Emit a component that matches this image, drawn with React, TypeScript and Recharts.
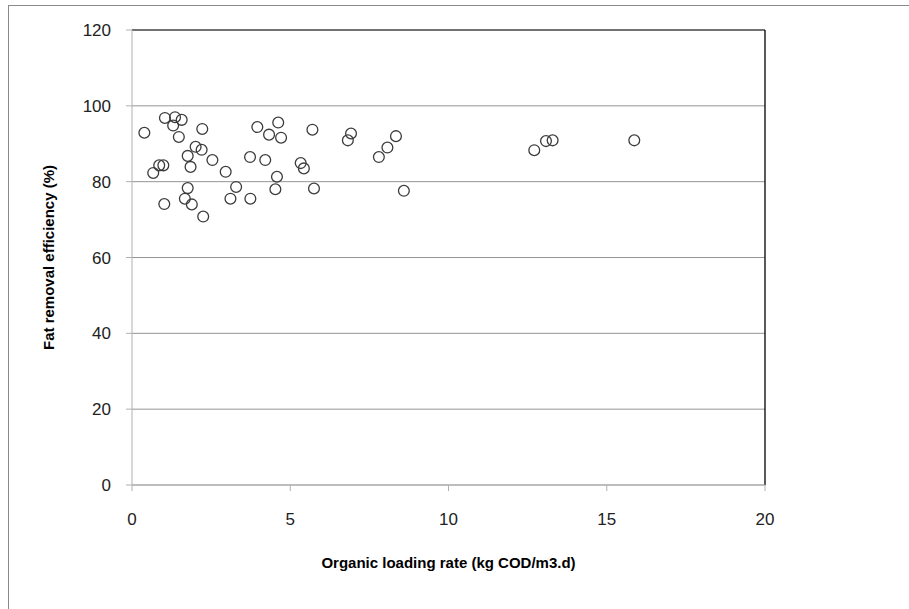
import { ScatterChart, Scatter, XAxis, YAxis, CartesianGrid, ReferenceLine, Label } from 'recharts';

// Organic loading rate (kg COD/m3.d)
const loadingRate = [
  0.39, 1.04, 1.36, 1.57, 1.30, 1.48, 2.22, 2.01, 2.20, 1.76,
  1.85, 2.54, 0.86, 0.99, 0.67, 2.96, 1.76, 3.29, 1.67, 1.89,
  1.02, 3.11, 3.74, 2.25, 3.73, 4.21, 3.96, 4.33, 4.62, 4.71,
  4.58, 4.53, 5.70, 6.92, 6.82, 8.34, 8.07, 7.80, 5.33, 5.43,
  5.75, 8.59, 12.71, 13.08, 13.29, 15.87,
];

// Fat removal efficiency (%)
const removalEfficiency = [
  92.9, 96.8, 97.0, 96.3, 94.8, 91.8, 93.9, 89.2, 88.4, 86.8,
  83.9, 85.7, 84.3, 84.3, 82.3, 82.6, 78.3, 78.6, 75.5, 74.0,
  74.1, 75.5, 75.5, 70.8, 86.5, 85.7, 94.4, 92.4, 95.6, 91.6,
  81.3, 78.0, 93.7, 92.7, 90.9, 92.0, 89.0, 86.5, 84.9, 83.5,
  78.2, 77.6, 88.3, 90.7, 90.9, 90.9,
];

const xTicks = [0, 5, 10, 15, 20];
const yTicks = [0, 20, 40, 60, 80, 100, 120];

const data = loadingRate.map((x, i) => ({ x, y: removalEfficiency[i] }));

const FONT = '"Liberation Sans", Arial, sans-serif';

const HollowDot = (props: any) => {
  const { cx, cy } = props;
  if (cx == null || cy == null) return null;
  return <circle cx={cx} cy={cy} r={5.4} fill="none" stroke="#3c3c3c" strokeWidth={1.3} />;
};

export default function App() {
  return (
    <div style={{ position: 'absolute', left: 0, top: 0, width: 909, height: 609, overflow: 'hidden', background: '#fff' }}>
      <div
        style={{
          position: 'absolute',
          left: 8,
          top: 5,
          width: 940,
          height: 640,
          borderLeft: '1px solid #8a8a8a',
          borderTop: '1px solid #8a8a8a',
        }}
      />
      <div style={{ position: 'absolute', left: 0, top: 0 }}>
        <ScatterChart width={909} height={609} margin={{ top: 30, right: 144, bottom: 0, left: 0 }}>
          <CartesianGrid vertical={false} stroke="#959595" />
          <XAxis
            type="number"
            dataKey="x"
            domain={[0, 20]}
            ticks={xTicks}
            height={124}
            stroke="#b0b0b0"
            tickSize={6}
            tickMargin={22}
            tick={{ fill: '#222', fontSize: 17, fontFamily: FONT }}
          >
            <Label
              value="Organic loading rate (kg COD/m3.d)"
              position="insideTop"
              offset={72}
              style={{ fontFamily: FONT, fontSize: 15, fontWeight: 'bold', fill: '#000' }}
            />
          </XAxis>
          <YAxis
            type="number"
            dataKey="y"
            domain={[0, 120]}
            ticks={yTicks}
            width={132}
            stroke="#b0b0b0"
            tickSize={6}
            tickMargin={15}
            tick={{ fill: '#222', fontSize: 17, fontFamily: FONT }}
          >
            <Label
              value="Fat removal efficiency (%)"
              position="insideLeft"
              offset={49}
              angle={-90}
              textAnchor="middle"
              style={{ fontFamily: FONT, fontSize: 15, fontWeight: 'bold', fill: '#000', textAnchor: 'middle' }}
            />
          </YAxis>
          <ReferenceLine y={120} stroke="#555" strokeWidth={1.3} />
          <ReferenceLine x={20} stroke="#000" strokeWidth={1.3} />
          <Scatter data={data} shape={<HollowDot />} isAnimationActive={false} />
        </ScatterChart>
      </div>
    </div>
  );
}
